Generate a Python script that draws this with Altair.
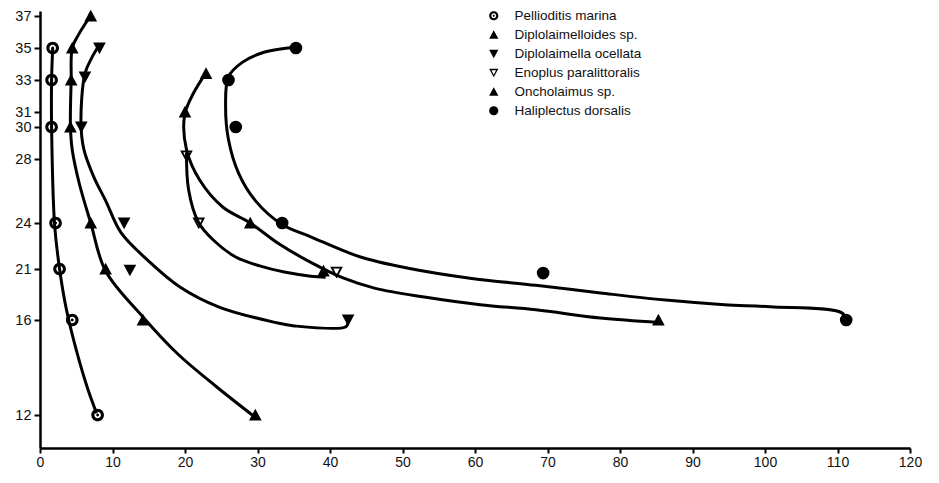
import altair as alt
import pandas as pd

species = ["Pellioditis marina", "Diplolaimelloides sp.", "Diplolaimella ocellata",
           "Enoplus paralittoralis", "Oncholaimus sp.", "Haliplectus dorsalis"]

# observed points
pm_x = [1.75, 1.6, 1.6, 2.15, 2.7, 4.45, 7.95]
pm_y = [35, 33, 30, 24, 21, 16, 12]
dl_x = [7.0, 4.45, 4.3, 4.2, 7.0, 9.05, 14.2, 29.7]
dl_y = [37, 35, 33, 30, 24, 21, 16, 12]
do_x = [8.2, 6.2, 5.7, 11.6, 12.4, 42.5]
do_y = [35, 33.2, 30, 24, 20.9, 16]
ep_x = [20.2, 21.9, 40.9]
ep_y = [28.2, 24, 20.7]
on_x = [22.9, 20.0, 29.0, 39.1, 85.3]
on_y = [33.4, 31, 24, 20.8, 16]
hd_x = [35.3, 26.0, 27.0, 33.4, 69.4, 111.2]
hd_y = [35, 33, 30, 24, 20.6, 16]

# fitted curves
c1_x = [1.75, 1.6, 1.6, 2.0, 2.7, 3.65, 5.0, 6.5, 7.8]
c1_y = [35, 33, 30, 24, 21, 17, 14.74, 13.18, 12.08]
c2_x = [7.0, 6.75, 5.4, 4.45, 4.3, 4.2, 4.45, 5.4, 7.0, 9.05, 14.2, 18.9, 24.3, 29.7]
c2_y = [37.2, 36.9, 35.9, 35, 33, 30, 28.56, 26.5, 24, 20.8, 16.3, 14.6, 13.2, 11.9]
c3_x = [8.2, 7.15, 6.2, 5.65, 6.05, 7.4, 9.05, 11.2, 14.8, 19.3, 24.7, 32.4, 35.1, 42.2, 42.5]
c3_y = [35.2, 34.4, 33.4, 30.3, 28.6, 26.9, 25.4, 23.35, 21.6, 19.24, 17.27, 15.9, 15.75, 15.72, 15.95]
c4_x = [20.2, 20.5, 21.85, 23.9, 27.0, 30.3, 33.7, 37.35, 39.4]
c4_y = [28.4, 26.06, 24.05, 22.89, 21.78, 21.2, 20.7, 20.3, 20.2]
c5_x = [22.9, 21.2, 19.95, 20.2, 22.0, 25.2, 29.0, 33.0, 37.75, 41.8, 46.25, 53.0, 60.7, 68.4, 77.3, 85.35]
c5_y = [33.45, 32.2, 30.8, 28.6, 26.7, 25.0, 24.0, 22.63, 21.33, 20.12, 19.1, 18.25, 17.5, 17.0, 16.2, 15.9]
c6_x = [35.3, 31.0, 27.9, 26.0, 25.6, 26.0, 27.4, 29.7, 33.4, 37.35, 44.1, 50.8, 59.3, 68.4,
        77.3, 86.3, 94.4, 100.7, 110.6, 111.2]
c6_y = [35.05, 34.75, 34.1, 33.2, 31.3, 29.2, 27.1, 25.4, 23.9, 23.1, 21.8, 21.05, 20.1, 19.4,
        18.65, 17.95, 17.5, 17.3, 16.7, 16.0]

x_ticks = [0, 10, 20, 30, 40, 50, 60, 70, 80, 90, 100, 110, 120]
y_ticks = [12, 16, 21, 24, 28, 30, 31, 33, 35, 37]

point_sets = [(pm_x, pm_y), (dl_x, dl_y), (do_x, do_y), (ep_x, ep_y), (on_x, on_y), (hd_x, hd_y)]
curve_sets = [(c1_x, c1_y), (c2_x, c2_y), (c3_x, c3_y), (c4_x, c4_y), (c5_x, c5_y), (c6_x, c6_y)]

pts = pd.DataFrame([{"species": s, "x": x, "y": y}
                    for s, (xs, ys) in zip(species, point_sets) for x, y in zip(xs, ys)])
crv = pd.DataFrame([{"species": s, "x": x, "y": y, "i": k}
                    for s, (xs, ys) in zip(species, curve_sets) for k, (x, y) in enumerate(zip(xs, ys))])

RING = ("M1,0A1,1 0 1,1 -1,0A1,1 0 1,1 1,0Z "
        "M0.52,0A0.52,0.52 0 1,0 -0.52,0A0.52,0.52 0 1,0 0.52,0Z "
        "M0.22,0A0.22,0.22 0 1,1 -0.22,0A0.22,0.22 0 1,1 0.22,0Z")
TRI_UP = "M0,-1L1,0.85L-1,0.85Z"
TRI_DOWN = "M-1,-0.85L1,-0.85L0,1Z"
OPEN_DOWN = "M-1,-0.85L1,-0.85L0,1Z M-0.5,-0.55L0,0.45L0.5,-0.55Z"
shapes = [RING, TRI_UP, TRI_DOWN, OPEN_DOWN, TRI_UP, "circle"]

FONT = "Liberation Sans"

xs = alt.X("x:Q", scale=alt.Scale(domain=[0, 120], nice=False, zero=False),
           axis=alt.Axis(values=x_ticks, title=None, grid=False, domainColor="black", domainWidth=2.5,
                         tickColor="black", tickWidth=2, tickSize=5, labelFont=FONT, labelFontSize=14,
                         labelColor="#111", labelPadding=2, labelFlush=False))
ys = alt.Y("y:Q", scale=alt.Scale(domain=[10.61, 12, 16, 21, 24, 28, 30, 31, 33, 35, 37, 37.31],
                                  range=[437, 404, 309, 258, 212, 148, 116, 101, 69, 37, 5, 0],
                                  nice=False, zero=False),
           axis=alt.Axis(values=y_ticks, title=None, grid=False, domainColor="black", domainWidth=2.5,
                         tickColor="black", tickWidth=2, tickSize=6, labelFont=FONT, labelFontSize=14.5,
                         labelColor="#111", labelPadding=3, labelFlush=False, labelOverlap=False))

lines = alt.Chart(crv).mark_line(interpolate="catmull-rom", strokeWidth=3, color="black").encode(
    x=xs, y=ys, detail="species:N", order="i:Q")

points = alt.Chart(pts).mark_point(filled=True, color="black", opacity=1, size=160, strokeWidth=0).encode(
    x=xs, y=ys,
    shape=alt.Shape("species:N", scale=alt.Scale(domain=species, range=shapes),
                    legend=alt.Legend(title=None, orient="none", legendX=447, legendY=-2,
                                      labelFont=FONT, labelFontSize=13.5, labelColor="#111",
                                      symbolSize=85, symbolFillColor="black", symbolStrokeWidth=0,
                                      labelOffset=14, rowPadding=4, padding=0)))

chart = alt.layer(lines, points).properties(
    width=870, height=437,
    autosize=alt.AutoSizeParams(type="none"),
    padding={"left": 32, "top": 3, "right": 12, "bottom": 22},
    background="white",
).configure_view(stroke=None)

chart.save("out.html", embed_options={"renderer": "svg", "actions": False})
